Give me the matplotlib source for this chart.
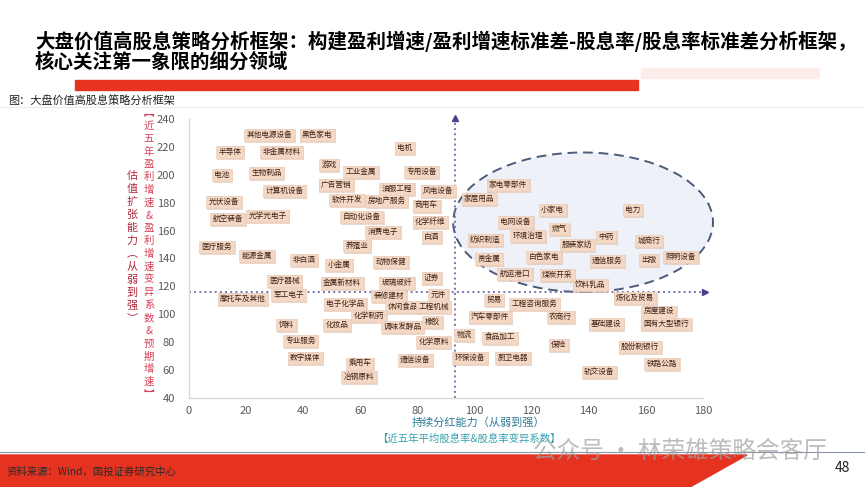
import matplotlib
matplotlib.use("Agg")
import matplotlib.pyplot as plt
import matplotlib.transforms as mtransforms
from matplotlib.patches import Ellipse, Polygon, Rectangle
from matplotlib.lines import Line2D

plt.rcParams['font.family'] = ['Noto Sans CJK SC', 'DejaVu Sans']

W, H = 865, 487

# industry labels, x = dividend ability, y = valuation expansion ability
names = ['其他电源设备', '黑色家电', '半导体', '非金属材料', '电机', '游戏', '工业金属', '专用设备',
         '电池', '生物制品', '计算机设备', '广告营销', '油服工程', '风电设备', '家电零部件', '家居用品',
         '光伏设备', '软件开发', '房地产服务', '商用车', '航空装备', '光学光电子', '自动化设备', '化学纤维',
         '小家电', '电力', '消费电子', '白酒', '电网设备', '燃气', '环境治理', '纺织制造',
         '中药', '服装家纺', '城商行', '养殖业', '医疗服务', '能源金属', '非白酒', '小金属',
         '动物保健', '贵金属', '白色家电', '通信服务', '出版', '照明设备', '航运港口', '煤炭开采',
         '饮料乳品', '医疗器械', '金属新材料', '玻璃玻纤', '证券', '摩托车及其他', '军工电子', '装修建材',
         '元件', '电子化学品', '休闲食品', '工程机械', '贸易', '工程咨询服务', '炼化及贸易', '化学制药',
         '橡胶', '汽车零部件', '农商行', '房屋建设', '饲料', '化妆品', '调味发酵品', '基础建设',
         '国有大型银行', '物流', '食品加工', '专业服务', '化学原料', '保险', '股份制银行', '数字媒体',
         '乘用车', '通信设备', '环保设备', '厨卫电器', '铁路公路', '冶钢原料', '轨交设备']
div_x = [28.2, 44.9, 14.3, 32.3, 75.5, 49.0, 60.2, 81.4,
         11.5, 27.1, 33.4, 51.5, 72.7, 87.3, 111.7, 101.6,
         12.2, 55.3, 69.2, 83.1, 13.6, 27.5, 60.5, 84.5,
         127.3, 155.5, 67.8, 84.9, 114.4, 129.7, 118.6, 103.7,
         146.1, 136.0, 161.0, 58.8, 9.7, 23.7, 40.3, 52.5,
         70.6, 105.0, 124.2, 146.4, 161.0, 172.2, 114.1, 129.0,
         140.5, 33.4, 53.6, 72.7, 84.9, 18.8, 34.8, 69.9,
         87.3, 54.6, 74.8, 85.6, 106.8, 121.0, 156.2, 63.0,
         85.2, 105.4, 130.1, 164.5, 34.1, 51.8, 74.8, 146.1,
         167.0, 96.3, 108.9, 39.0, 85.6, 129.4, 157.9, 40.7,
         59.8, 79.3, 98.4, 113.4, 165.6, 59.5, 143.7]
grow_y = [228.5, 228.5, 216.3, 216.3, 219.2, 207.0, 202.0, 202.0,
          199.9, 201.3, 188.4, 192.7, 189.8, 188.4, 192.7, 182.7,
          180.5, 181.9, 181.2, 177.6, 168.3, 170.5, 169.7, 166.2,
          174.8, 174.8, 159.0, 155.4, 166.2, 161.1, 156.1, 153.3,
          155.4, 149.7, 152.5, 149.0, 148.2, 141.8, 138.9, 135.3,
          137.5, 139.6, 141.1, 138.2, 138.9, 141.1, 128.9, 128.2,
          121.0, 123.9, 122.4, 122.4, 126.0, 111.0, 113.8, 113.1,
          113.8, 107.4, 105.2, 105.2, 110.3, 107.4, 111.7, 98.8,
          94.5, 98.1, 98.1, 101.6, 92.3, 92.3, 90.9, 93.0,
          93.0, 85.2, 83.0, 80.9, 80.1, 78.0, 76.6, 68.7,
          64.4, 67.2, 68.7, 68.7, 64.4, 55.1, 58.6]

x_ticks = [0, 20, 40, 60, 80, 100, 120, 140, 160, 180]
y_ticks = [40, 60, 80, 100, 120, 140, 160, 180, 200, 220, 240]
x_split = 93
y_split = 116

title1 = '大盘价值高股息策略分析框架：构建盈利增速/盈利增速标准差-股息率/股息率标准差分析框架，'
title2 = '核心关注第一象限的细分领域'
fig_note = '图：大盘价值高股息策略分析框架'
source = '资料来源：Wind，国投证券研究中心'
x_label1 = '持续分红能力（从弱到强）'
x_label2 = '【近五年平均股息率&股息率变异系数】'
y_label1 = list('估值扩张能力') + ['︵'] + list('从弱到强') + ['︶']
y_label2 = ['︻'] + list('近五年盈利增速') + ['&'] + list('盈利增速变异系数') + ['&'] + list('预期增速') + ['︼']


def fx(px):
    return px / W


def fy(py):
    return 1 - py / H


fig = plt.figure(figsize=(W / 100, H / 100), dpi=100)
fig.patch.set_facecolor('white')

# header
fig.text(fx(35), fy(41), title1, fontsize=14, fontweight='bold', va='center', ha='left', color='black')
fig.text(fx(35), fy(62), title2, fontsize=14, fontweight='bold', va='center', ha='left', color='black')
fig.patches.append(Rectangle((fx(75), fy(90)), fx(638) - fx(75), (90 - 80) / H,
                             transform=fig.transFigure, color='#e8341f', zorder=1))
fig.patches.append(Rectangle((fx(641), fy(78)), fx(819) - fx(641), (78 - 68) / H,
                             transform=fig.transFigure, color='#fcecea', zorder=1))
fig.text(fx(8), fy(100), fig_note, fontsize=8, va='center', ha='left', color='#222222')
fig.lines.append(Line2D([0, 1], [fy(107), fy(107)], transform=fig.transFigure, color='#e6e6e6', lw=0.6))

# footer
fig.lines.append(Line2D([0, 1], [fy(452), fy(452)], transform=fig.transFigure, color='#8a96a6', lw=0.8))
fig.patches.append(Polygon([(0, fy(455)), (fx(747), fy(455)), (fx(690), 0), (0, 0)],
                           closed=True, transform=fig.transFigure, color='#e5331f', zorder=1))
fig.text(fx(7), fy(472), source, fontsize=7.5, va='center', ha='left', color='#2a2a2a')
fig.text(fx(842), fy(468), '48', fontsize=10, va='center', ha='center', color='#222222')
fig.text(fx(680), fy(451), '公众号 · 林荣雄策略会客厅', fontsize=17, va='center', ha='center',
         color='#a0a0a0', alpha=0.7, zorder=5)

# main axes
ax = fig.add_axes([fx(189), fy(398), fx(703) - fx(189), fy(119) - fy(398)])
ax.set_xlim(0, 180)
ax.set_ylim(40, 240)
ax.set_xticks(x_ticks)
ax.set_yticks(y_ticks)
ax.tick_params(length=0, labelsize=8, labelcolor='#595959')
ax.tick_params(axis='y', pad=10)
ax.tick_params(axis='x', pad=6)
for s in ['top', 'right']:
    ax.spines[s].set_visible(False)
for s in ['left', 'bottom']:
    ax.spines[s].set_color('#d9d9d9')
    ax.spines[s].set_linewidth(1)

ell = Ellipse((138, 166), 91, 100, facecolor='#eef2f8', edgecolor='#4b5b7a',
              linestyle=(0, (5, 3)), lw=1.4, zorder=1, clip_on=False)
ax.add_patch(ell)

line_col = '#7d74ad'
ax.plot([x_split, x_split], [40, 239.5], color=line_col, ls=':', lw=1.4, zorder=2, clip_on=False)
ax.plot([x_split], [240.5], marker='^', ms=5, color='#4b3f8f', clip_on=False, zorder=3)
ax.plot([0, 179.5], [y_split, y_split], color=line_col, ls=':', lw=1.4, zorder=2, clip_on=False)
ax.plot([180.8], [y_split], marker='>', ms=5, color='#4b3f8f', clip_on=False, zorder=3)

shadow = mtransforms.offset_copy(ax.transData, fig=fig, x=0.8, y=-0.8, units='points')
for name, x, y in zip(names, div_x, grow_y):
    ax.text(x, y, name, transform=shadow, fontsize=5.5, ha='center', va='center', color='none',
            bbox=dict(boxstyle='square,pad=0.35', facecolor='#dcb9a4', edgecolor='none', alpha=0.55),
            zorder=4, clip_on=False)
    ax.text(x, y, name, fontsize=5.5, ha='center', va='center', color='#3d2418',
            bbox=dict(boxstyle='square,pad=0.3', facecolor='#f4d8c4', edgecolor='#ead0bd', lw=0.5),
            zorder=5, clip_on=False)

# axis titles
fig.text(fx(478), fy(423), x_label1, fontsize=8, ha='center', va='center', color='#2c7a96')
fig.text(fx(469), fy(439), x_label2, fontsize=7.5, ha='center', va='center', color='#37a0ae')

step1 = 13
start1 = 247 - step1 * (len(y_label1) - 1) / 2
for i, ch in enumerate(y_label1):
    fig.text(fx(132), fy(start1 + i * step1), ch, fontsize=8, ha='center', va='center', color='#b3283d')
step2 = 12.8
start2 = 254 - step2 * (len(y_label2) - 1) / 2
for i, ch in enumerate(y_label2):
    fig.text(fx(149), fy(start2 + i * step2), ch, fontsize=7.5, ha='center', va='center', color='#d8405a')

fig.savefig('out.png', dpi=100)
